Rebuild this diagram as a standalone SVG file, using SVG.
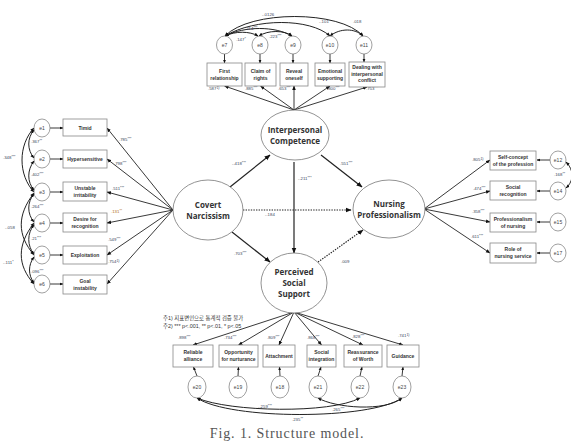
<svg xmlns="http://www.w3.org/2000/svg" width="571" height="444" viewBox="0 0 571 444">
<defs>
<marker id="a" viewBox="0 0 10 10" refX="9" refY="5" markerWidth="5" markerHeight="5" orient="auto-start-reverse"><path d="M0,1 L10,5 L0,9 z" fill="#111"/></marker>
<marker id="s" viewBox="0 0 10 10" refX="9" refY="5" markerWidth="4" markerHeight="4" orient="auto-start-reverse"><path d="M0,1 L10,5 L0,9 z" fill="#111"/></marker>
<style>
.bx{fill:#fff;stroke:#888;stroke-width:0.8}
.bt{font-family:"Liberation Sans",Arial,sans-serif;font-size:5px;font-weight:bold;fill:#333;text-anchor:middle}
.er{fill:#fff;stroke:#777;stroke-width:0.7}
.et{font-family:"Liberation Sans",Arial,sans-serif;font-size:5px;fill:#444;text-anchor:middle}
.lv{fill:#fff;stroke:#777;stroke-width:0.8}
.lt{font-family:"Open Sans","Liberation Sans",sans-serif;font-size:8px;font-weight:bold;fill:#333;text-anchor:middle}
.ln{fill:none;stroke:#222;stroke-width:0.9}
.lm{fill:none;stroke:#222;stroke-width:1.2}
.dt{fill:none;stroke:#222;stroke-width:1.2;stroke-dasharray:1.4 1.2}
.cv{fill:none;stroke:#222;stroke-width:1}
.lb{font-family:"Liberation Sans",Arial,sans-serif;font-size:4.3px;fill:#3a3f5a}
.or{fill:#b06a10}
.nt{font-family:"Liberation Sans","Noto Sans CJK KR",sans-serif;font-size:5.4px;fill:#333}
.cap{font-family:"Liberation Serif","Times New Roman",serif;font-size:14px;fill:#555;letter-spacing:0.9px}
</style>
</defs>

<g id="connectors">
  <path class="ln" marker-end="url(#s)" d="M224.5,54 L224.5,63"/>
  <path class="ln" marker-end="url(#s)" d="M260,54 L260,63"/>
  <path class="ln" marker-end="url(#s)" d="M293,54 L293,63"/>
  <path class="ln" marker-end="url(#s)" d="M330,54 L330,63"/>
  <path class="ln" marker-end="url(#s)" d="M364,54 L364,62"/>
  <path class="cv" marker-start="url(#s)" marker-end="url(#s)" d="M225,36 C250,10 340,10 363,36"/>
  <path class="cv" marker-start="url(#s)" marker-end="url(#s)" d="M225,36 C255,18 310,18 330,36"/>
  <path class="cv" marker-start="url(#s)" marker-end="url(#s)" d="M225,36 C245,26 275,26 292,36"/>
  <path class="cv" marker-start="url(#s)" marker-end="url(#s)" d="M225,36 C235,31 250,31 258,36"/>
  <path class="cv" marker-start="url(#s)" marker-end="url(#s)" d="M259,36 C268,30 284,30 292,36"/>
  <path class="cv" marker-start="url(#s)" marker-end="url(#s)" d="M330,36 C340,28 355,28 363,36"/>
  <path class="ln" marker-end="url(#a)" d="M294,110 L224.5,86"/>
  <path class="ln" marker-end="url(#a)" d="M294,110 L260.5,86"/>
  <path class="ln" marker-end="url(#a)" d="M294,110 L294,86"/>
  <path class="ln" marker-end="url(#a)" d="M294,110 L330,86"/>
  <path class="ln" marker-end="url(#a)" d="M294,110 L367,87"/>
  <path class="ln" marker-end="url(#s)" d="M50,128 L63,128"/>
  <path class="ln" marker-end="url(#s)" d="M50,159 L63,159"/>
  <path class="ln" marker-end="url(#s)" d="M50,192 L63,192"/>
  <path class="ln" marker-end="url(#s)" d="M50,223 L63,223"/>
  <path class="ln" marker-end="url(#s)" d="M50,255 L63,255"/>
  <path class="ln" marker-end="url(#s)" d="M50,284 L63,284"/>
  <path class="cv" marker-start="url(#s)" marker-end="url(#s)" d="M34,130 C27,138 27,150 34,158"/>
  <path class="cv" marker-start="url(#s)" marker-end="url(#s)" d="M34,161 C27,170 27,182 34,190"/>
  <path class="cv" marker-start="url(#s)" marker-end="url(#s)" d="M34,194 C27,202 27,214 34,222"/>
  <path class="cv" marker-start="url(#s)" marker-end="url(#s)" d="M34,225 C27,233 27,246 34,254"/>
  <path class="cv" marker-start="url(#s)" marker-end="url(#s)" d="M34,257 C28,265 28,275 34,283"/>
  <path class="cv" marker-start="url(#s)" marker-end="url(#s)" d="M34,128 C18,145 18,175 34,192"/>
  <path class="cv" marker-start="url(#s)" marker-end="url(#s)" d="M34,193 C17,215 17,235 34,255"/>
  <path class="cv" marker-start="url(#s)" marker-end="url(#s)" d="M34,223 C17,245 17,265 34,284"/>
  <path class="ln" marker-end="url(#a)" d="M173,210 L107,128"/>
  <path class="ln" marker-end="url(#a)" d="M173,210 L107,159"/>
  <path class="ln" marker-end="url(#a)" d="M173,210 L107,192"/>
  <path class="ln" marker-end="url(#a)" d="M173,210 L107,223"/>
  <path class="ln" marker-end="url(#a)" d="M173,210 L107,255"/>
  <path class="ln" marker-end="url(#a)" d="M173,210 L107,284"/>
  <path class="ln" marker-end="url(#a)" d="M424,209 L490,160"/>
  <path class="ln" marker-end="url(#a)" d="M424,209 L490,191"/>
  <path class="ln" marker-end="url(#a)" d="M424,209 L490,222"/>
  <path class="ln" marker-end="url(#a)" d="M424,209 L490,253"/>
  <path class="ln" marker-end="url(#s)" d="M550,160 L537,160"/>
  <path class="ln" marker-end="url(#s)" d="M550,191 L537,191"/>
  <path class="ln" marker-end="url(#s)" d="M550,222 L537,222"/>
  <path class="ln" marker-end="url(#s)" d="M550,253 L537,253"/>
  <path class="cv" marker-start="url(#s)" marker-end="url(#s)" d="M566,162 C574,170 574,181 566,188"/>
  <path class="ln" marker-end="url(#a)" d="M294,312 L193,345"/>
  <path class="ln" marker-end="url(#a)" d="M294,312 L238.5,345"/>
  <path class="ln" marker-end="url(#a)" d="M294,312 L279,345"/>
  <path class="ln" marker-end="url(#a)" d="M294,312 L321.5,345"/>
  <path class="ln" marker-end="url(#a)" d="M294,312 L363,345"/>
  <path class="ln" marker-end="url(#a)" d="M294,312 L403,345"/>
  <path class="ln" marker-end="url(#s)" d="M197,376 L193.5,367"/>
  <path class="ln" marker-end="url(#s)" d="M238,376 L238.5,367"/>
  <path class="ln" marker-end="url(#s)" d="M280,376 L279.5,367"/>
  <path class="ln" marker-end="url(#s)" d="M318,376 L321,367"/>
  <path class="ln" marker-end="url(#s)" d="M360,376 L362,367"/>
  <path class="ln" marker-end="url(#s)" d="M402,376 L403,367"/>
  <path class="cv" marker-start="url(#s)" marker-end="url(#s)" d="M197,398 C230,412 330,414 360,398"/>
  <path class="cv" marker-start="url(#s)" marker-end="url(#s)" d="M318,398 C335,408 385,412 402,398"/>
  <path class="cv" marker-start="url(#s)" marker-end="url(#s)" d="M197,398 C230,420 370,420 402,398"/>
  <path class="lm" marker-end="url(#a)" d="M230,187 L270,155"/>
  <path class="lm" marker-end="url(#a)" d="M321,155 L362,187"/>
  <path class="lm" marker-end="url(#a)" d="M294,162 L294,253"/>
  <path class="dt" marker-end="url(#a)" d="M243,210 L351,210"/>
  <path class="lm" marker-end="url(#a)" d="M232,232 L270,262"/>
  <path class="dt" marker-end="url(#a)" d="M318,262 L363,230"/>
</g>

<g id="path-labels">
  <text class="lb" x="232" y="165">-.418<tspan dy="-1.2" font-size="3.5">***</tspan></text>
  <text class="lb" x="340" y="165">.551<tspan dy="-1.2" font-size="3.5">***</tspan></text>
  <text class="lb" x="298" y="180">-.211<tspan dy="-1.2" font-size="3.5">***</tspan></text>
  <text class="lb" x="265" y="216">-.184</text>
  <text class="lb" x="234" y="255">.703<tspan dy="-1.2" font-size="3.5">***</tspan></text>
  <text class="lb" x="341" y="263">.009</text>
  <text class="lb" x="208" y="90">.587<tspan dy="-1.2" font-size="3.5">1)</tspan></text>
  <text class="lb" x="245" y="90">.885<tspan dy="-1.2" font-size="3.5">***</tspan></text>
  <text class="lb" x="278" y="90">.653<tspan dy="-1.2" font-size="3.5">***</tspan></text>
  <text class="lb" x="327" y="90">.800<tspan dy="-1.2" font-size="3.5">***</tspan></text>
  <text class="lb" x="366" y="90">.753<tspan dy="-1.2" font-size="3.5">***</tspan></text>
  <text class="lb" x="262" y="16">-.0126</text>
  <text class="lb" x="319" y="23">-.101</text>
  <text class="lb" x="353" y="23">.018</text>
  <text class="lb" x="245" y="30">.214<tspan dy="-1.2" font-size="3.5">***</tspan></text>
  <text class="lb" x="236" y="41">.147<tspan dy="-1.2" font-size="3.5">*</tspan></text>
  <text class="lb" x="269" y="38">.223<tspan dy="-1.2" font-size="3.5">***</tspan></text>
  <text class="lb" x="119" y="141">.785<tspan dy="-1.2" font-size="3.5">***</tspan></text>
  <text class="lb" x="114" y="165">.798<tspan dy="-1.2" font-size="3.5">***</tspan></text>
  <text class="lb" x="112" y="190">.511<tspan dy="-1.2" font-size="3.5">***</tspan></text>
  <text class="lb or" x="111" y="213">.131<tspan dy="-1.2" font-size="3.5">**</tspan></text>
  <text class="lb" x="108" y="241">.549<tspan dy="-1.2" font-size="3.5">***</tspan></text>
  <text class="lb" x="108" y="263">.754<tspan dy="-1.2" font-size="3.5">1)</tspan></text>
  <text class="lb" x="3" y="159">.348<tspan dy="-1.2" font-size="3.5">***</tspan></text>
  <text class="lb" x="31" y="143">.367<tspan dy="-1.2" font-size="3.5">**</tspan></text>
  <text class="lb" x="31" y="176">.402<tspan dy="-1.2" font-size="3.5">***</tspan></text>
  <text class="lb" x="31" y="208">.264<tspan dy="-1.2" font-size="3.5">***</tspan></text>
  <text class="lb" x="5" y="229">-.058</text>
  <text class="lb" x="31" y="240">.21<tspan dy="-1.2" font-size="3.5">***</tspan></text>
  <text class="lb" x="3" y="264">-.111<tspan dy="-1.2" font-size="3.5">*</tspan></text>
  <text class="lb" x="31" y="273">.096<tspan dy="-1.2" font-size="3.5">***</tspan></text>
  <text class="lb" x="472" y="161">.805<tspan dy="-1.2" font-size="3.5">1)</tspan></text>
  <text class="lb" x="473" y="190">.474<tspan dy="-1.2" font-size="3.5">***</tspan></text>
  <text class="lb" x="472" y="213">.358<tspan dy="-1.2" font-size="3.5">***</tspan></text>
  <text class="lb" x="471" y="238">.611<tspan dy="-1.2" font-size="3.5">***</tspan></text>
  <text class="lb" x="554" y="176">.168<tspan dy="-1.2" font-size="3.5">**</tspan></text>
  <text class="lb" x="178" y="339">.898<tspan dy="-1.2" font-size="3.5">***</tspan></text>
  <text class="lb" x="224" y="339">.734<tspan dy="-1.2" font-size="3.5">***</tspan></text>
  <text class="lb" x="267" y="339">.809<tspan dy="-1.2" font-size="3.5">***</tspan></text>
  <text class="lb" x="307" y="339">.868<tspan dy="-1.2" font-size="3.5">***</tspan></text>
  <text class="lb" x="352" y="338">.828<tspan dy="-1.2" font-size="3.5">***</tspan></text>
  <text class="lb" x="398" y="337">.741<tspan dy="-1.2" font-size="3.5">1)</tspan></text>
  <text class="lb" x="258" y="408">-.259<tspan dy="-1.2" font-size="3.5">***</tspan></text>
  <text class="lb" x="332" y="411">.265<tspan dy="-1.2" font-size="3.5">***</tspan></text>
  <text class="lb" x="292" y="421">.235<tspan dy="-1.2" font-size="3.5">**</tspan></text>
</g>

<g id="e7"><ellipse class="er" cx="224.5" cy="45" rx="8" ry="9"/><text class="et" x="224.5" y="46.8">e7</text></g>
<g id="e8"><ellipse class="er" cx="260" cy="45" rx="8" ry="9"/><text class="et" x="260" y="46.8">e8</text></g>
<g id="e9"><ellipse class="er" cx="293" cy="45" rx="8" ry="9"/><text class="et" x="293" y="46.8">e9</text></g>
<g id="e10"><ellipse class="er" cx="330" cy="45" rx="8" ry="9"/><text class="et" x="330" y="46.8">e10</text></g>
<g id="e11"><ellipse class="er" cx="364" cy="45" rx="8" ry="9"/><text class="et" x="364" y="46.8">e11</text></g>

<g id="first-relationship"><rect class="bx" x="207" y="63" width="35" height="23"/><text class="bt" x="224.5" y="73">First</text><text class="bt" x="224.5" y="80">relationship</text></g>
<g id="claim-of-rights"><rect class="bx" x="245" y="63" width="31" height="23"/><text class="bt" x="260.5" y="73">Claim of</text><text class="bt" x="260.5" y="80">rights</text></g>
<g id="reveal-oneself"><rect class="bx" x="280" y="63" width="28" height="23"/><text class="bt" x="294" y="73">Reveal</text><text class="bt" x="294" y="80">oneself</text></g>
<g id="emotional-supporting"><rect class="bx" x="315" y="63" width="30" height="23"/><text class="bt" x="330" y="73">Emotional</text><text class="bt" x="330" y="80">supporting</text></g>
<g id="dealing-conflict"><rect class="bx" x="349" y="62" width="36" height="25"/><text class="bt" x="367" y="69">Dealing with</text><text class="bt" x="367" y="75.5">interpersonal</text><text class="bt" x="367" y="82">conflict</text></g>

<g id="e1"><ellipse class="er" cx="42" cy="128" rx="8" ry="9"/><text class="et" x="42" y="129.8">e1</text></g>
<g id="e2"><ellipse class="er" cx="42" cy="159" rx="8" ry="9"/><text class="et" x="42" y="160.8">e2</text></g>
<g id="e3"><ellipse class="er" cx="42" cy="192" rx="8" ry="9"/><text class="et" x="42" y="193.8">e3</text></g>
<g id="e4"><ellipse class="er" cx="42" cy="223" rx="8" ry="9"/><text class="et" x="42" y="224.8">e4</text></g>
<g id="e5"><ellipse class="er" cx="42" cy="255" rx="8" ry="9"/><text class="et" x="42" y="256.8">e5</text></g>
<g id="e6"><ellipse class="er" cx="42" cy="284" rx="8" ry="9"/><text class="et" x="42" y="285.8">e6</text></g>

<g id="timid"><rect class="bx" x="63" y="119" width="44" height="17"/><text class="bt" x="85" y="129.5">Timid</text></g>
<g id="hypersensitive"><rect class="bx" x="63" y="150" width="44" height="18"/><text class="bt" x="85" y="160.8">Hypersensitive</text></g>
<g id="unstable-irritability"><rect class="bx" x="63" y="182" width="44" height="19"/><text class="bt" x="85" y="189.5">Unstable</text><text class="bt" x="85" y="196.5">irritability</text></g>
<g id="desire-recognition"><rect class="bx" x="63" y="213" width="44" height="19"/><text class="bt" x="85" y="220.5">Desire for</text><text class="bt" x="85" y="227.5">recognition</text></g>
<g id="exploitation"><rect class="bx" x="63" y="246" width="44" height="18"/><text class="bt" x="85" y="256.8">Exploitation</text></g>
<g id="goal-instability"><rect class="bx" x="63" y="275" width="44" height="19"/><text class="bt" x="85" y="282.5">Goal</text><text class="bt" x="85" y="289.5">instability</text></g>

<g id="self-concept"><rect class="bx" x="490" y="151" width="46" height="19"/><text class="bt" x="513" y="158.5">Self-concept</text><text class="bt" x="513" y="165.5">of the profession</text></g>
<g id="social-recognition"><rect class="bx" x="490" y="181" width="46" height="19"/><text class="bt" x="513" y="188.5">Social</text><text class="bt" x="513" y="195.5">recognition</text></g>
<g id="professionalism-nursing"><rect class="bx" x="490" y="213" width="46" height="19"/><text class="bt" x="513" y="220.5">Professionalism</text><text class="bt" x="513" y="227.5">of nursing</text></g>
<g id="role-nursing"><rect class="bx" x="490" y="243" width="46" height="20"/><text class="bt" x="513" y="251">Role of</text><text class="bt" x="513" y="258">nursing service</text></g>

<g id="e12"><ellipse class="er" cx="558" cy="160" rx="8" ry="9"/><text class="et" x="558" y="161.8">e12</text></g>
<g id="e14"><ellipse class="er" cx="558" cy="191" rx="8" ry="9"/><text class="et" x="558" y="192.8">e14</text></g>
<g id="e15"><ellipse class="er" cx="558" cy="222" rx="8" ry="9"/><text class="et" x="558" y="223.8">e15</text></g>
<g id="e17"><ellipse class="er" cx="558" cy="253" rx="8" ry="9"/><text class="et" x="558" y="254.8">e17</text></g>

<g id="reliable-alliance"><rect class="bx" x="173" y="345" width="40" height="22"/><text class="bt" x="193" y="354">Reliable</text><text class="bt" x="193" y="361">alliance</text></g>
<g id="opportunity-nurturance"><rect class="bx" x="219" y="345" width="39" height="22"/><text class="bt" x="238.5" y="354">Opportunity</text><text class="bt" x="238.5" y="361">for nurturance</text></g>
<g id="attachment"><rect class="bx" x="263" y="345" width="32" height="22"/><text class="bt" x="279" y="357.8">Attachment</text></g>
<g id="social-integration"><rect class="bx" x="307" y="345" width="29" height="22"/><text class="bt" x="321.5" y="354">Social</text><text class="bt" x="321.5" y="361">integration</text></g>
<g id="reassurance-worth"><rect class="bx" x="344" y="345" width="38" height="22"/><text class="bt" x="363" y="354">Reassurance</text><text class="bt" x="363" y="361">of Worth</text></g>
<g id="guidance"><rect class="bx" x="387" y="345" width="32" height="22"/><text class="bt" x="403" y="357.8">Guidance</text></g>

<g id="e20"><ellipse class="er" cx="197" cy="387" rx="9" ry="11"/><text class="et" x="197" y="388.8">e20</text></g>
<g id="e19"><ellipse class="er" cx="238" cy="387" rx="9" ry="11"/><text class="et" x="238" y="388.8">e19</text></g>
<g id="e18"><ellipse class="er" cx="280" cy="387" rx="9" ry="11"/><text class="et" x="280" y="388.8">e18</text></g>
<g id="e21"><ellipse class="er" cx="318" cy="387" rx="9" ry="11"/><text class="et" x="318" y="388.8">e21</text></g>
<g id="e22"><ellipse class="er" cx="360" cy="387" rx="9" ry="11"/><text class="et" x="360" y="388.8">e22</text></g>
<g id="e23"><ellipse class="er" cx="402" cy="387" rx="9" ry="11"/><text class="et" x="402" y="388.8">e23</text></g>

<g id="interpersonal-competence"><ellipse class="lv" cx="295" cy="135" rx="34" ry="25"/><text class="lt" x="295" y="133">Interpersonal</text><text class="lt" x="295" y="144">Competence</text></g>
<g id="covert-narcissism"><ellipse class="lv" cx="208" cy="210" rx="35" ry="30"/><text class="lt" x="208" y="208">Covert</text><text class="lt" x="208" y="219">Narcissism</text></g>
<g id="nursing-professionalism"><ellipse class="lv" cx="389" cy="209" rx="36" ry="29"/><text class="lt" x="389" y="207">Nursing</text><text class="lt" x="389" y="218">Professionalism</text></g>
<g id="perceived-social-support"><ellipse class="lv" cx="294" cy="283" rx="33" ry="30"/><text class="lt" x="294" y="275">Perceived</text><text class="lt" x="294" y="286">Social</text><text class="lt" x="294" y="297">Support</text></g>

<g id="notes">
  <text class="nt" x="163" y="320">주1) 지표변인으로 통계적 검증 불가</text>
  <text class="nt" x="163" y="327.5">주2) *** p&lt;.001, ** p&lt;.01, * p&lt;.05</text>
</g>
<text class="cap" x="287" y="438" text-anchor="middle">Fig. 1. Structure model.</text>
</svg>
